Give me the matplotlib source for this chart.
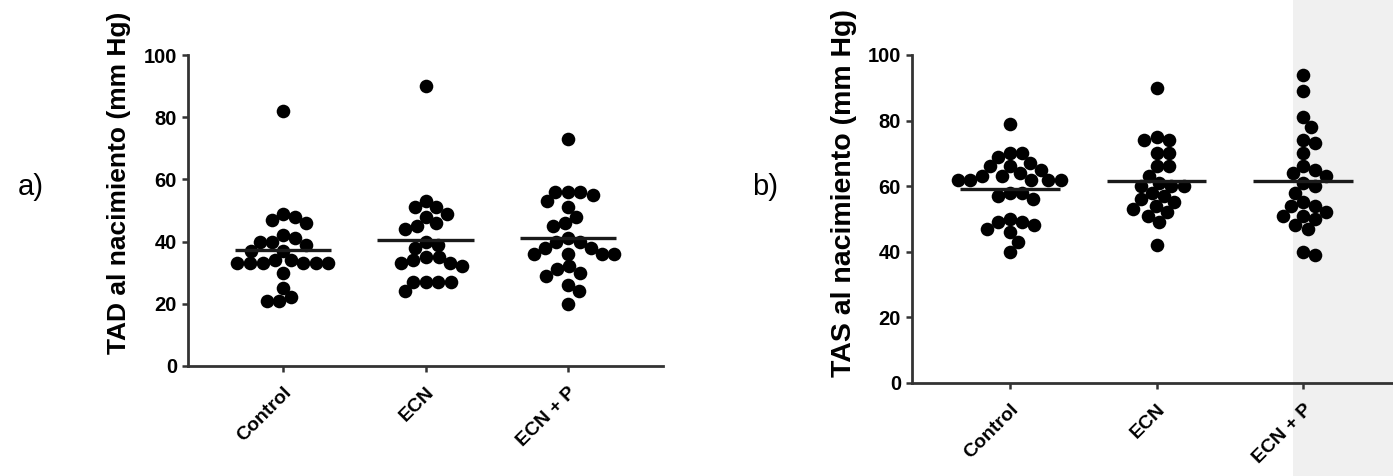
import numpy as np
import matplotlib
matplotlib.use('Agg')
import matplotlib.pyplot as plt
from matplotlib.patches import Rectangle

# === Datos (mm Hg) ===
groups = ['Control', 'ECN', 'ECN + P']

tad_control = [82, 49, 47, 46, 48, 41, 40, 39, 40, 42, 37, 37,
               34, 33, 33, 33, 33, 33, 33, 34, 30, 22, 21, 21, 25]
tad_ecn = [90, 51, 53, 51, 48, 49, 46, 44, 45, 39, 40, 38,
           35, 34, 33, 32, 33, 35, 27, 27, 24, 27, 27]
tad_ecn_p = [73, 56, 56, 53, 55, 56, 51, 46, 45, 48, 41, 40, 38,
             36, 36, 36, 36, 38, 40, 32, 30, 29, 31, 26, 24, 20]

tas_control = [79, 70, 69, 70, 67, 66, 65, 66, 63, 62, 62, 62, 63, 64,
               62, 62, 58, 56, 57, 58, 48, 46, 49, 47, 50, 49, 43, 40]
tas_ecn = [90, 75, 74, 74, 70, 70, 66, 66, 63, 61, 60, 58, 56, 57, 60, 60,
           55, 53, 51, 49, 52, 54, 42]
tas_ecn_p = [94, 89, 81, 78, 74, 73, 70, 65, 63, 64, 66, 60, 61, 58,
             55, 52, 51, 54, 54, 50, 51, 48, 47, 39, 40]

yticks = [0, 20, 40, 60, 80, 100]

W, H = 1393, 476
plt.rcParams['font.family'] = ['Liberation Sans', 'DejaVu Sans']
AXIS_COLOR = '#333333'
DOT = 9.8       # diametro del punto (pt)
DOT_PX = 12.5   # separacion minima entre centros (px)


def swarm_x(ax, center, vals):
    # reparte los puntos en horizontal sin que se pisen (beeswarm simple)
    vals = np.asarray(vals, dtype=float)
    pts = np.column_stack([np.full(len(vals), center), vals])
    ys = ax.transData.transform(pts)[:, 1]
    offs = np.zeros(len(vals))
    placed = []
    for i in np.argsort(-vals, kind='stable'):
        y = ys[i]
        cands = [0.0]
        for px, py in placed:
            dy = abs(py - y)
            if dy < DOT_PX:
                dx = np.sqrt(DOT_PX ** 2 - dy ** 2)
                cands += [px + dx, px - dx]
        cands.sort(key=lambda c: (round(abs(c), 3), c < 0))
        for c in cands:
            if all((c - px) ** 2 + (y - py) ** 2 >= DOT_PX ** 2 - 1e-6 for px, py in placed):
                offs[i] = c
                break
        placed.append((offs[i], y))
    x0 = ax.transData.transform((center, 0))[0]
    inv = ax.transData.inverted()
    return [inv.transform((x0 + d, 0))[0] for d in offs]


def panel(ax, data, ylabel, label_size, label_xy):
    ax.set_facecolor('none')
    ax.set_xlim(-0.667, 2.667)
    ax.set_ylim(0, 100)
    for s in ['top', 'right']:
        ax.spines[s].set_visible(False)
    for s in ['left', 'bottom']:
        ax.spines[s].set_linewidth(2.0)
        ax.spines[s].set_color(AXIS_COLOR)
    ax.set_yticks(yticks)
    ax.set_yticklabels([str(t) for t in yticks], fontsize=14.5, fontweight='bold')
    ax.set_xticks(range(len(groups)))
    ax.set_xticklabels(groups, fontsize=14, fontweight='bold', rotation=45,
                       ha='right', rotation_mode='anchor')
    ax.tick_params(axis='both', length=4, width=1.8, color=AXIS_COLOR, pad=4)
    ax.tick_params(axis='x', pad=9)
    ax.set_ylabel(ylabel, fontsize=label_size, fontweight='bold')
    ax.yaxis.set_label_coords(*label_xy)

    for i, vals in enumerate(data):
        xs = swarm_x(ax, i, vals)
        ax.plot(xs, vals, 'o', color='black', markersize=DOT, markeredgewidth=0,
                zorder=3, clip_on=False)
        m = np.mean(vals)
        ax.plot([i - 0.34, i + 0.34], [m, m], color='#1a1a1a', lw=2.4, zorder=4,
                solid_capstyle='butt')


fig = plt.figure(figsize=(W / 100, H / 100), dpi=100)
fig.patch.set_facecolor('white')
# franja gris a la derecha, por detras de los ejes
fig.patches.append(Rectangle((1293 / W, 0), (W - 1293) / W, 1, transform=fig.transFigure,
                             facecolor='#f0f0f0', edgecolor='none', zorder=-5))

ax1 = fig.add_axes([188 / W, 1 - 365.7 / H, (663 - 188) / W, (365.7 - 55.3) / H])
ax2 = fig.add_axes([912 / W, 1 - 382.7 / H, (1401 - 912) / W, (382.7 - 55.0) / H])

panel(ax1, [tad_control, tad_ecn, tad_ecn_p], 'TAD al nacimiento (mm Hg)', 19, (-0.12, 0.589))
panel(ax2, [tas_control, tas_ecn, tas_ecn_p], 'TAS al nacimiento (mm Hg)', 20.5, (-0.112, 0.58))

fig.text(18 / W, 1 - 187 / H, 'a)', fontsize=21, va='center', ha='left')
fig.text(752 / W, 1 - 187 / H, 'b)', fontsize=21, va='center', ha='left')

fig.savefig('out.png', dpi=100)
